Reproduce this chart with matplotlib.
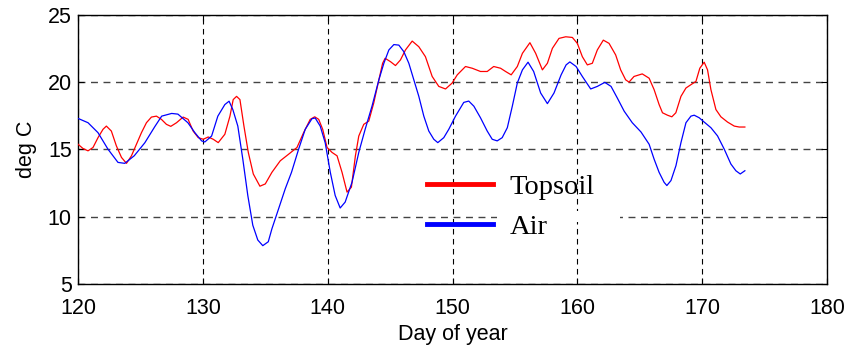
import matplotlib.pyplot as plt
import matplotlib.patches as mpatches
import numpy as np

# ==========================================
# DATA
# ==========================================
air_day = [120.0, 120.8, 121.6, 122.4, 123.2, 123.74, 124.5, 125.35, 126.15, 126.7,
           127.5, 128.0, 128.8, 129.36, 129.9, 130.16, 130.7, 131.2, 131.76, 132.1,
           132.4, 132.8, 133.2, 133.6, 134.0, 134.4, 134.8, 135.24, 135.53, 136.07,
           136.6, 137.1, 137.67, 138.2, 138.74, 139.0, 139.4, 139.8, 140.21, 140.6,
           141.0, 141.4, 141.95, 142.49, 143.0, 143.55, 144.1, 144.5, 144.9, 145.3,
           145.7, 146.1, 146.5, 146.9, 147.3, 147.7, 148.1, 148.5, 148.82, 149.3,
           149.7, 150.24, 150.9, 151.3, 151.71, 152.24, 152.78, 153.18, 153.58, 153.98,
           154.39, 154.79, 155.19, 155.6, 156.05, 156.5, 157.06, 157.6, 158.13, 158.7,
           159.1, 159.4, 159.9, 160.4, 161.07, 161.6, 162.2, 162.7, 163.2, 163.75,
           164.4, 165.1, 165.75, 166.15, 166.55, 166.95, 167.17, 167.5, 167.9, 168.3,
           168.7, 169.1, 169.36, 169.76, 170.16, 170.7, 171.23, 171.77, 172.3, 172.7,
           173.05, 173.42]
air_temp = [17.31, 16.99, 16.25, 15.02, 14.04, 13.97, 14.53, 15.5, 16.7, 17.48,
            17.68, 17.63, 16.99, 16.25, 15.64, 15.56, 16.0, 17.48, 18.34, 18.59,
            17.97, 16.74, 14.28, 11.58, 9.37, 8.27, 7.85, 8.14, 9.1, 10.6,
            12.08, 13.3, 15.02, 16.5, 17.29, 17.34, 16.74, 15.5, 13.3, 11.58,
            10.65, 11.09, 12.57, 14.78, 16.5, 18.22, 20.18, 21.41, 22.4, 22.8,
            22.76, 22.27, 21.41, 20.18, 18.95, 17.48, 16.37, 15.76, 15.51, 15.88,
            16.5, 17.48, 18.5, 18.6, 18.22, 17.36, 16.37, 15.76, 15.64, 15.88,
            16.62, 18.22, 19.94, 20.92, 21.49, 20.8, 19.2, 18.41, 19.2, 20.55,
            21.29, 21.51, 21.17, 20.43, 19.5, 19.69, 19.99, 19.69, 18.83, 17.85,
            16.99, 16.3, 15.39, 14.28, 13.3, 12.56, 12.32, 12.69, 13.8, 15.51,
            16.99, 17.48, 17.55, 17.36, 17.04, 16.62, 16.01, 15.02, 13.92, 13.42,
            13.18, 13.42]

soil_day = [120.0, 120.4, 120.8, 121.2, 121.6, 122.0, 122.27, 122.67, 123.07, 123.48,
            123.88, 124.28, 124.68, 125.08, 125.48, 125.88, 126.28, 126.68, 127.08, 127.43,
            127.89, 128.42, 128.82, 129.22, 129.63, 130.03, 130.43, 130.83, 131.23, 131.76,
            132.17, 132.43, 132.7, 132.97, 133.29, 133.64, 134.04, 134.57, 135.0, 135.53,
            136.2, 136.87, 137.54, 138.07, 138.6, 138.96, 139.28, 139.6, 139.95, 140.35,
            140.75, 141.15, 141.55, 141.9, 142.22, 142.49, 142.89, 143.29, 143.69, 144.1,
            144.4, 144.6, 145.03, 145.43, 145.83, 146.23, 146.77, 147.3, 147.83, 148.37,
            148.9, 149.44, 149.97, 150.38, 151.04, 151.58, 152.24, 152.78, 153.3, 153.85,
            154.25, 154.7, 155.19, 155.6, 156.2, 156.66, 157.2, 157.6, 158.0, 158.53,
            159.07, 159.6, 160.0, 160.4, 160.8, 161.2, 161.6, 162.08, 162.54, 163.07,
            163.47, 163.87, 164.14, 164.54, 165.2, 165.75, 166.15, 166.55, 166.82, 167.22,
            167.57, 167.89, 168.3, 168.7, 169.1, 169.5, 169.81, 170.16, 170.43, 170.7,
            171.1, 171.5, 172.03, 172.57, 172.97, 173.42]
soil_temp = [15.39, 15.07, 14.9, 15.15, 15.88, 16.5, 16.74, 16.37, 15.27, 14.41,
             13.97, 14.53, 15.39, 16.25, 16.99, 17.41, 17.48, 17.24, 16.87, 16.72,
             16.99, 17.41, 17.24, 16.37, 15.88, 15.76, 15.93, 15.76, 15.51, 16.13,
             17.48, 18.71, 18.95, 18.71, 16.74, 14.78, 13.18, 12.27, 12.44, 13.3,
             14.16, 14.65, 15.15, 16.25, 17.24, 17.43, 17.24, 16.5, 15.15, 14.78,
             14.53, 13.3, 11.83, 12.2, 14.53, 16.0, 16.87, 17.11, 18.46, 20.18,
             21.41, 21.78, 21.53, 21.24, 21.66, 22.4, 23.06, 22.64, 21.9, 20.43,
             19.69, 19.5, 19.94, 20.55, 21.17, 21.04, 20.8, 20.8, 21.17, 21.04,
             20.8, 20.55, 21.17, 22.15, 22.94, 22.15, 20.92, 21.41, 22.52, 23.26,
             23.38, 23.33, 22.89, 21.9, 21.29, 21.41, 22.4, 23.13, 22.89, 22.03,
             20.92, 20.18, 20.01, 20.43, 20.62, 20.3, 19.45, 18.34, 17.73, 17.55,
             17.43, 17.73, 18.95, 19.57, 19.82, 20.06, 21.04, 21.49, 20.92, 19.45,
             17.97, 17.43, 17.04, 16.74, 16.67, 16.67]

x_ticks = [120, 130, 140, 150, 160, 170, 180]
y_ticks = [5, 10, 15, 20, 25]

# ==========================================
# PLOT
# ==========================================
fig = plt.figure(figsize=(8.51, 3.51), dpi=100, facecolor='white')
ax = fig.add_axes([0.0917, 0.1909, 0.8801, 0.7664])

ax.plot(soil_day, soil_temp, color='#ff0000', lw=0.9, label='Topsoil', zorder=3)
ax.plot(air_day, air_temp, color='#0000ff', lw=0.9, label='Air', zorder=3)

ax.set_xlim(120, 180)
ax.set_ylim(5, 25)
ax.set_xticks(x_ticks)
ax.set_yticks(y_ticks)

# MATLAB-like dashed grid
ax.set_axisbelow(True)
ax.xaxis.grid(True, color='black', linestyle=(0, (5, 4)), linewidth=0.8)
ax.yaxis.grid(True, color='#444444', linestyle=(0, (5, 4)), linewidth=1.0)

# the legend box hides part of the y=10 gridline in the original
ax.add_patch(mpatches.Rectangle((153.6, 9.6), 9.8, 0.8, facecolor='white',
                                edgecolor='none', zorder=1))

for s in ax.spines.values():
    s.set_color('black')
    s.set_linewidth(1.0)

ax.tick_params(axis='both', direction='in', length=4, width=0.8,
               top=True, right=True, labelsize=15.5)
ax.tick_params(axis='x', pad=10)
ax.tick_params(axis='y', pad=4.5)
for lab in ax.get_xticklabels() + ax.get_yticklabels():
    lab.set_family('Liberation Sans')

ax.set_xlabel('Day of year', fontsize=15.5, family='Liberation Sans', labelpad=4)
ax.set_ylabel('deg C', fontsize=15.5, family='Liberation Sans', labelpad=8)

leg = ax.legend(loc='center', bbox_to_anchor=(0.578, 0.285), frameon=False,
                prop={'family': 'Liberation Serif', 'size': 20.5},
                handlelength=2.3, handletextpad=0.6, labelspacing=0.5)
for h in leg.get_lines():
    h.set_linewidth(3.5)

plt.savefig('out.png', dpi=100)
